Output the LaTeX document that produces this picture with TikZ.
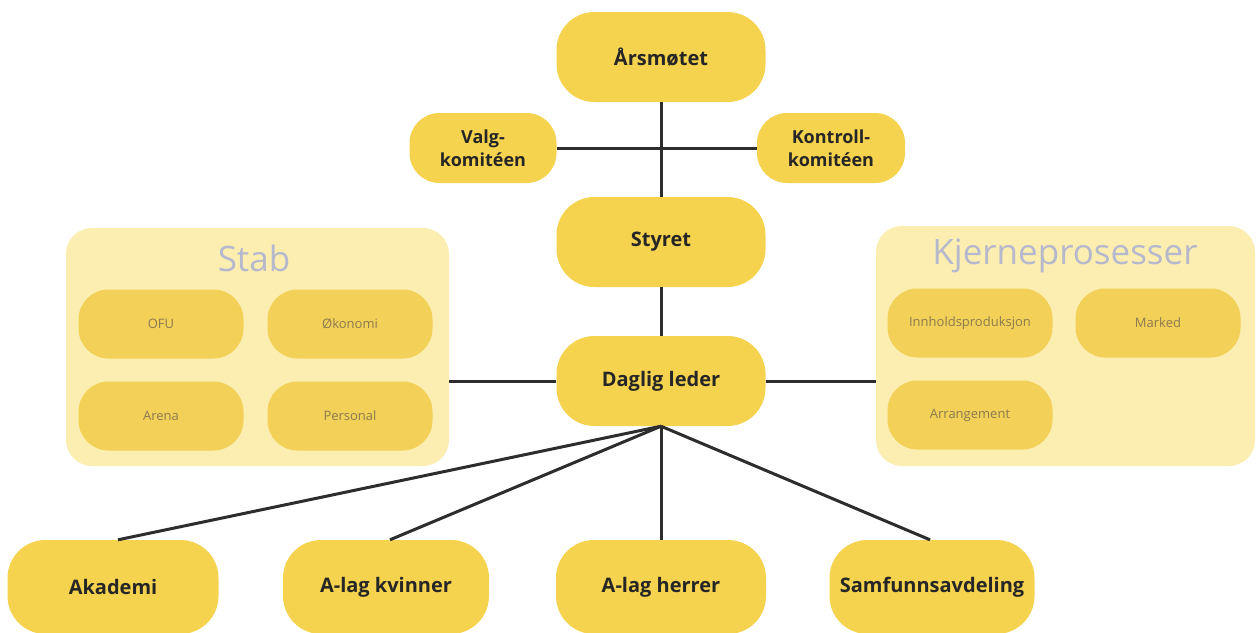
\documentclass[tikz,border=0pt]{standalone}
\usepackage{fontspec}
\setmainfont{Open Sans}
\begin{document}
\begin{tikzpicture}[x=1pt,y=-1pt,
  every node/.style={inner sep=0pt},
  pill/.style={fill=mainyellow, rounded corners=38pt, font=\fontsize{20}{25}\selectfont\bfseries, text=black!85, align=center},
  smallpill/.style={fill=mainyellow, rounded corners=30pt, font=\fontsize{18}{23}\selectfont\bfseries, text=black!85, align=center},
  inpill/.style={fill=inyellow, rounded corners=30pt, minimum width=165pt, minimum height=69pt, font=\fontsize{13}{16}\selectfont, text=intext},
  group/.style={fill=bgyellow, rounded corners=26pt},
  gtitle/.style={font=\fontsize{35}{40}\selectfont, text=titlegray},
  conn/.style={line width=3pt, draw=linegray}
]
\definecolor{mainyellow}{RGB}{246,211,78}
\definecolor{inyellow}{RGB}{243,208,88}
\definecolor{bgyellow}{RGB}{252,238,176}
\definecolor{titlegray}{RGB}{182,184,205}
\definecolor{intext}{RGB}{140,122,80}
\definecolor{linegray}{RGB}{45,45,45}
\useasboundingbox (0,0) rectangle (1257,632);
\fill[white] (0,0) rectangle (1257,632);

% groups
\node[group, minimum width=383pt, minimum height=238pt] (stab) at (257.5,347) {};
\node[gtitle] (stabt) at (254,258) {Stab};
\node[group, minimum width=379pt, minimum height=240pt] (kjerne) at (1065.5,346) {};
\node[gtitle] (kjernet) at (1065,256) {Kjerneprosesser};

\node[inpill] (ofu) at (161,324) {OFU};
\node[inpill] (okon) at (350,324) {Økonomi};
\node[inpill] (arena) at (161,416) {Arena};
\node[inpill] (pers) at (350,416) {Personal};

\node[inpill] (innh) at (970,323) {Innholdsproduksjon};
\node[inpill] (mark) at (1158,323) {Marked};
\node[inpill] (arr) at (970,415) {Arrangement};

% main nodes
\node[pill, minimum width=209pt, minimum height=90pt] (aars) at (661,57) {Årsmøtet};
\node[smallpill, minimum width=147pt, minimum height=70pt] (valg) at (483,148) {Valg-\\komitéen};
\node[smallpill, minimum width=148pt, minimum height=70pt] (kontr) at (831,148) {Kontroll-\\komitéen};
\node[pill, minimum width=209pt, minimum height=90pt] (styret) at (661,242) {Styret};
\node[pill, minimum width=209pt, minimum height=90pt] (dl) at (661,381) {Daglig leder};

\node[pill, minimum width=211pt, minimum height=94pt] (akad) at (113,587) {Akademi};
\node[pill, minimum width=206pt, minimum height=94pt] (akv) at (386,587) {A-lag kvinner};
\node[pill, minimum width=210pt, minimum height=94pt] (aher) at (661,587) {A-lag herrer};
\node[pill, minimum width=205pt, minimum height=94pt] (samf) at (932,587) {Samfunnsavdeling};

% connectors
\draw[conn] (aars.south) -- (styret.north);
\draw[conn] (valg.east) -- (kontr.west);
\draw[conn] (styret.south) -- (dl.north);
\draw[conn] (dl.west) -- (dl.west -| stab.east);
\draw[conn] (dl.east) -- (dl.east -| kjerne.west);
\draw[conn] (dl.south) -- ([xshift=5pt]akad.north);
\draw[conn] (dl.south) -- ([xshift=4pt]akv.north);
\draw[conn] (dl.south) -- (aher.north);
\draw[conn] (dl.south) -- ([xshift=-2pt]samf.north);
\end{tikzpicture}
\end{document}
